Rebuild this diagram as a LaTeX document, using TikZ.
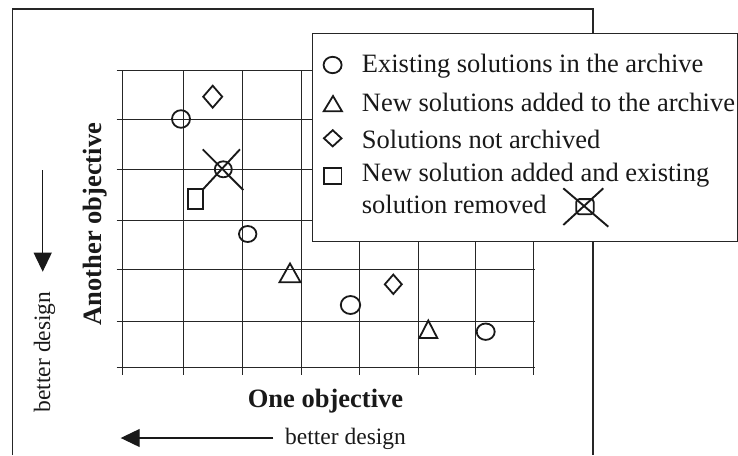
\documentclass[tikz,border=0pt]{standalone}
\usepackage{fontspec}
\setmainfont{Liberation Serif}
\usetikzlibrary{arrows.meta,shapes.geometric}
\begin{document}
\begin{tikzpicture}[x=1pt,y=-1pt,
  gridline/.style={line width=1.0pt, draw=black!85},
  frameline/.style={line width=1.2pt, draw=black!85},
  sym/.style={line width=1.8pt, draw=black!90, line join=miter},
  crossline/.style={line width=1.9pt, draw=black!90},
  legtext/.style={anchor=base west, inner sep=0pt, text=black!90, font=\fontsize{26.5}{30}\selectfont},
  axlabel/.style={inner sep=0pt, text=black!90, font=\fontsize{26.5}{30}\selectfont\bfseries},
  bettertext/.style={inner sep=0pt, text=black!90, font=\fontsize{23.5}{28}\selectfont},
  arrowline/.style={line width=1.2pt, draw=black!90, -{Triangle[length=19pt,width=18pt]}}
]
\useasboundingbox (0,0) rectangle (738,455);
% outer frame
\draw[frameline] (12.3,455) -- (12.3,9) -- (593,9) -- (593,455);
% grid
\foreach \x in {122.5,183,242,301.5,359,418,475,533}
  \draw[gridline] (\x,70.7) -- (\x,375);
\foreach \y in {70.7,119.5,169,220,269.3,321,367.7}
  \draw[gridline] (116.5,\y) -- (534.5,\y);
% plot symbols
\draw[sym] (181,119) ellipse [x radius=9, y radius=8.8];
\draw[sym] (212.7,85.7) -- (222.2,96.7) -- (212.7,107.7) -- (203.2,96.7) -- cycle;
\draw[sym] (223.3,169.3) ellipse [x radius=8.5, y radius=8];
\draw[sym] (187.6,189.2) rectangle (203.1,209.1);
\coordinate (sqc) at (203.1,189.2);
\draw[crossline] (202.7,149.3) -- (243.3,190);
\draw[crossline] (240,149.3) -- (sqc);
\draw[sym] (247.7,234) ellipse [x radius=8.7, y radius=8];
\draw[sym] (290,263.5) -- (300.5,282.2) -- (279.5,282.2) -- cycle;
\draw[sym] (350.5,305) ellipse [x radius=9.7, y radius=9];
\draw[sym] (393.3,274.6) -- (401.8,284.3) -- (393.3,294) -- (384.8,284.3) -- cycle;
\draw[sym] (428.3,320.5) -- (437.3,338) -- (419.3,338) -- cycle;
\draw[sym] (485.7,331.7) ellipse [x radius=9, y radius=8.2];
% legend
\draw[frameline, fill=white] (312.3,33.3) rectangle (737.3,241.7);
\draw[sym] (332.6,65) ellipse [x radius=9, y radius=8.2];
\draw[sym] (333,96) -- (342,111.3) -- (323.7,111.3) -- cycle;
\draw[sym] (332.7,130.2) -- (341.5,138.3) -- (332.7,146.4) -- (323.9,138.3) -- cycle;
\draw[sym] (324.2,167.6) rectangle (341.4,184.1);
\draw[sym, rounded corners=3pt] (576.3,199.1) rectangle (593.7,214.3);
\draw[crossline] (563.3,188.3) -- (608.3,226.7);
\draw[crossline] (603.3,188.3) -- (563.3,225);
\node[legtext] (l1) at (361.7,72.3) {Existing solutions in the archive};
\node[legtext] (l2) at (361.7,111.7) {New solutions added to the archive};
\node[legtext] (l3) at (361.7,148.3) {Solutions not archived};
\node[legtext] (l4) at (361.7,181.7) {New solution added and existing};
\node[legtext] (l5) at (361.7,213.3) {solution removed};
% axis labels
\node[axlabel, anchor=base] (xlab) at (325.5,407.5) {One objective};
\node[axlabel, anchor=base, rotate=90] (ylab) at (101,224) {Another objective};
% better design arrows
\node[bettertext, anchor=base west] (bx) at (285,444) {better design};
\coordinate (bxs) at (273.3,438);
\coordinate (bxe) at (120.7,438);
\draw[arrowline] (bxs) -- (bxe);
\node[bettertext, anchor=base, rotate=90] (by) at (50,352) {better design};
\coordinate (bys) at (42.7,170);
\coordinate (bye) at (42.7,271.7);
\draw[arrowline] (bys) -- (bye);
\end{tikzpicture}
\end{document}
